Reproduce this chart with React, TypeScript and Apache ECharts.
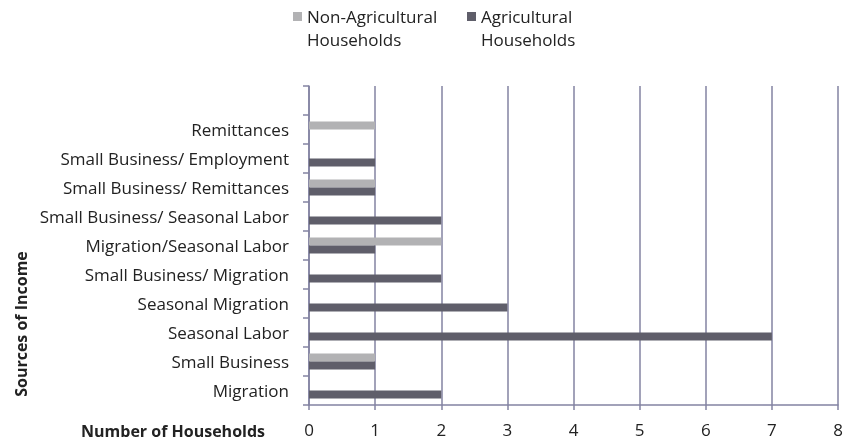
import React, { useEffect, useRef } from "react";
import * as echarts from "echarts";

// Income source categories, listed bottom to top; the blank top slot leaves headroom
const categories = [
  "Migration",
  "Small Business",
  "Seasonal Labor",
  "Seasonal Migration",
  "Small Business/ Migration",
  "Migration/Seasonal Labor",
  "Small Business/ Seasonal Labor",
  "Small Business/ Remittances",
  "Small Business/ Employment",
  "Remittances",
  "",
];

const nonAgricultural = [0, 1, 0, 0, 0, 2, 0, 1, 0, 1, null];
const agricultural = [2, 1, 7, 3, 2, 1, 2, 1, 1, 0, null];

const xTicks = [0, 1, 2, 3, 4, 5, 6, 7, 8];

const FONT = "'Open Sans', Lato, sans-serif";
const AXIS_COLOR = "#8383a2";
const TEXT_COLOR = "#222222";

export default function App() {
  const ref = useRef<HTMLDivElement>(null);

  useEffect(() => {
    if (!ref.current) return;
    const chart = echarts.init(ref.current, undefined, { renderer: "svg" });
    chart.setOption({
      animation: false,
      textStyle: { fontFamily: FONT },
      legend: {
        left: 288,
        top: -23,
        itemWidth: 9,
        itemHeight: 9,
        itemGap: 5,
        icon: "rect",
        data: ["Non-Agricultural\nHouseholds", "Agricultural\nHouseholds"],
        // leading blank line keeps the swatch level with the first text line
        formatter: (name: string) => "\n" + name,
        textStyle: {
          fontFamily: FONT,
          fontSize: 17,
          color: TEXT_COLOR,
          lineHeight: 23,
          width: 155,
        },
      },
      grid: { left: 309, right: 8, top: 86, bottom: 37 },
      xAxis: {
        type: "value",
        min: xTicks[0],
        max: xTicks[xTicks.length - 1],
        interval: 1,
        axisLine: { show: true, lineStyle: { color: AXIS_COLOR, width: 1.5 } },
        axisTick: { show: true, length: 5, lineStyle: { color: AXIS_COLOR, width: 1.5 } },
        splitLine: { show: true, lineStyle: { color: AXIS_COLOR, width: 1.5 } },
        axisLabel: { color: TEXT_COLOR, fontSize: 17, margin: 16, fontFamily: FONT },
      },
      yAxis: {
        type: "category",
        data: categories,
        axisLine: { show: true, lineStyle: { color: AXIS_COLOR, width: 1.5 } },
        axisTick: { show: true, length: 6, lineStyle: { color: AXIS_COLOR, width: 1.5 } },
        axisLabel: { color: TEXT_COLOR, fontSize: 17, margin: 20, fontFamily: FONT },
      },
      series: [
        {
          name: "Non-Agricultural\nHouseholds",
          type: "bar",
          data: nonAgricultural,
          barGap: "0%",
          barCategoryGap: "45%",
          itemStyle: { color: "#b2b2b4" },
        },
        {
          name: "Agricultural\nHouseholds",
          type: "bar",
          data: agricultural,
          barGap: "0%",
          barCategoryGap: "45%",
          itemStyle: { color: "#5f5e6a" },
        },
      ],
      graphic: [
        {
          type: "text",
          x: 265,
          y: 431,
          style: {
            text: "Number of Households",
            fontFamily: FONT,
            fontSize: 16,
            fontWeight: "bold",
            fill: TEXT_COLOR,
            align: "right",
            verticalAlign: "middle",
          },
        },
        {
          type: "text",
          x: 21,
          y: 324,
          rotation: Math.PI / 2,
          style: {
            text: "Sources of Income",
            fontFamily: FONT,
            fontSize: 16,
            fontWeight: "bold",
            fill: TEXT_COLOR,
            align: "center",
            verticalAlign: "middle",
          },
        },
      ],
    });
    return () => chart.dispose();
  }, []);

  return (
    <div
      ref={ref}
      style={{ position: "fixed", left: 0, top: 0, width: 846, height: 442 }}
    />
  );
}
